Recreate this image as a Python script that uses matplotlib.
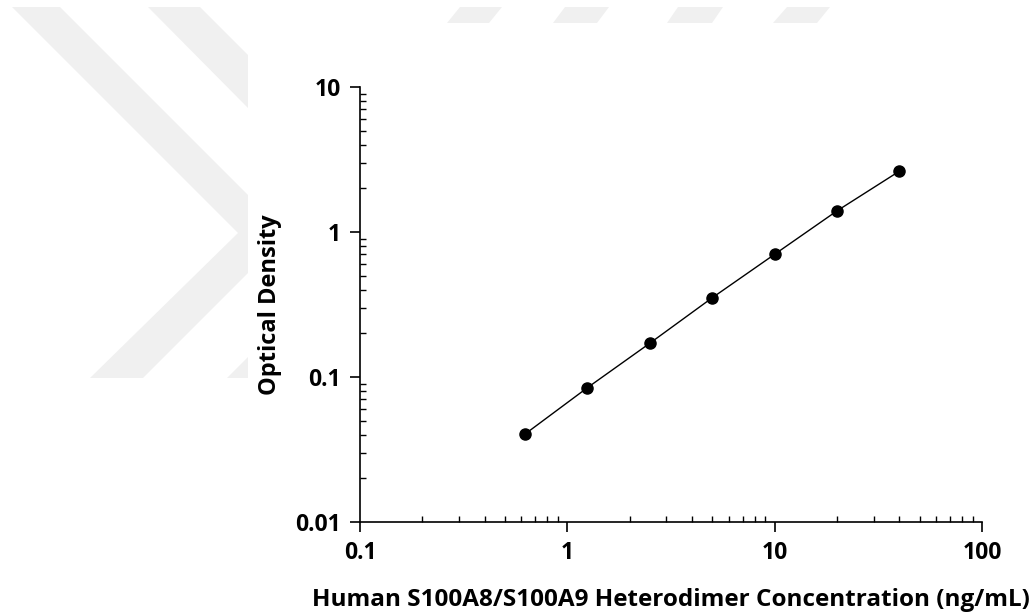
import numpy as np
import matplotlib
matplotlib.use('Agg')
import matplotlib.pyplot as plt
from matplotlib.patches import Polygon
from matplotlib.ticker import LogLocator, FuncFormatter, NullFormatter

concentration = [0.625, 1.25, 2.5, 5, 10, 20, 40]
optical_density = [0.0404, 0.0844, 0.171, 0.352, 0.702, 1.40, 2.63]

x_label = 'Human S100A8/S100A9 Heterodimer Concentration (ng/mL)'
y_label = 'Optical Density'

W, H = 1035, 616
plt.rcParams['font.family'] = ['Open Sans', 'DejaVu Sans']
plt.rcParams['font.weight'] = 'bold'

fig = plt.figure(figsize=(W / 100, H / 100), dpi=100)

# faint watermark shapes in the background (pixel coords, top-left origin)
marks = [
    [(12, 7), (60, 7), (248, 195), (248, 273), (143, 378), (90, 378), (238, 233)],
    [(148, 7), (200, 7), (248, 55), (248, 108)],
    [(227, 378), (248, 378), (248, 357)],
    [(460, 7), (502, 7), (489, 23), (447, 23)],
    [(565, 7), (609, 7), (597, 23), (553, 23)],
    [(678, 7), (723, 7), (712, 23), (667, 23)],
    [(787, 7), (830, 7), (817, 23), (773, 23)],
]
for m in marks:
    pts = [(px / W, 1 - py / H) for px, py in m]
    fig.patches.append(Polygon(pts, closed=True, transform=fig.transFigure,
                               facecolor='#f0f0f0', edgecolor='none', zorder=0))

ax = fig.add_axes([360 / W, 94 / H, 622 / W, 435 / H])
ax.patch.set_alpha(0)

ax.plot(concentration, optical_density, color='black', lw=1.0,
        marker='o', markersize=8, markerfacecolor='black', markeredgecolor='black')

ax.set_xscale('log')
ax.set_yscale('log')
ax.set_xlim(0.1, 100)
ax.set_ylim(0.01, 10)

for spine in ['top', 'right']:
    ax.spines[spine].set_visible(False)
for spine in ['left', 'bottom']:
    ax.spines[spine].set_linewidth(1.2)

fmt = FuncFormatter(lambda v, p: '%g' % v)
ax.xaxis.set_major_locator(LogLocator(base=10, numticks=10))
ax.yaxis.set_major_locator(LogLocator(base=10, numticks=10))
ax.xaxis.set_minor_locator(LogLocator(base=10, subs=np.arange(2, 10), numticks=10))
ax.yaxis.set_minor_locator(LogLocator(base=10, subs=np.arange(2, 10), numticks=10))
ax.xaxis.set_major_formatter(fmt)
ax.yaxis.set_major_formatter(fmt)
ax.xaxis.set_minor_formatter(NullFormatter())
ax.yaxis.set_minor_formatter(NullFormatter())

ax.tick_params(which='major', direction='out', length=7, width=1.2,
               labelsize=16.5, pad=7)
ax.tick_params(which='minor', direction='in', length=4, width=1.0)
for lab in ax.get_xticklabels() + ax.get_yticklabels():
    lab.set_fontweight('bold')

ax.set_xlabel(x_label, fontsize=17.5, fontweight='bold', labelpad=16)
ax.set_ylabel(y_label, fontsize=17, fontweight='bold', labelpad=9)

fig.savefig('out.png', dpi=100)
